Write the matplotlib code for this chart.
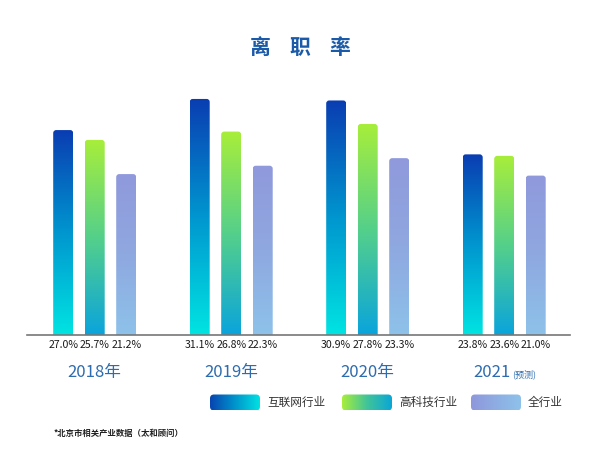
import matplotlib
matplotlib.use("Agg")
import matplotlib.pyplot as plt
import numpy as np
from matplotlib.colors import LinearSegmentedColormap
from matplotlib.patches import FancyBboxPatch

plt.rcParams['font.family'] = ['Noto Sans CJK SC', 'DejaVu Sans']

# data
years = ['2018年', '2019年', '2020年', '2021']
internet = [27.0, 31.1, 30.9, 23.8]
hightech = [25.7, 26.8, 27.8, 23.6]
overall = [21.2, 22.3, 23.3, 21.0]
series_names = ['互联网行业', '高科技行业', '全行业']

# gradients, bottom -> top
grad_cols = [
    ['#00e4e2', '#0096cf', '#0a3db2'],
    ['#0aa4dc', '#55d08a', '#a8ee3a'],
    ['#8dc2ea', '#8fa8e0', '#9099dc'],
]
# legend gradients, left -> right
leg_cols = [
    ['#0844b0', '#0094cc', '#00e2e2'],
    ['#a8ee3a', '#40c49a', '#0aa6d8'],
    ['#8f97dc', '#8dc2ea'],
]

W, H = 599, 458
fig = plt.figure(figsize=(W / 100, H / 100), dpi=100)

# main axes in pixel layout: baseline y=335, axis line x 27..570
px_per_pct = 7.59
px_per_grp = 136.5
base_y = 335
ax_left, ax_right = 27, 570
ymax = 32
ax = fig.add_axes([ax_left / W, (H - base_y) / H,
                   (ax_right - ax_left) / W, ymax * px_per_pct / H])
x0_data = -(94.7 - ax_left) / px_per_grp
x1_data = x0_data + (ax_right - ax_left) / px_per_grp

x = np.arange(len(years))
off = 31.5 / px_per_grp
bw = 20 / px_per_grp
asp = (1 / px_per_pct) / (1 / px_per_grp)
r = 3 / px_per_grp

all_vals = [internet, hightech, overall]
grad = np.linspace(0, 1, 256).reshape(-1, 1)
for k, vals in enumerate(all_vals):
    bars = ax.bar(x + (k - 1) * off, vals, width=bw, color='none', zorder=1)
    cmap = LinearSegmentedColormap.from_list('g%d' % k, grad_cols[k])
    for rect, v in zip(bars, vals):
        bx, bwid, bh = rect.get_x(), rect.get_width(), rect.get_height()
        img = ax.imshow(grad, cmap=cmap, origin='lower', aspect='auto',
                        extent=[bx, bx + bwid, 0, bh], zorder=2)
        clip = FancyBboxPatch((bx, -2), bwid, bh + 2,
                              boxstyle='round,pad=0,rounding_size=%f' % r,
                              mutation_aspect=asp, fc='none', ec='none',
                              transform=ax.transData)
        ax.add_patch(clip)
        img.set_clip_path(clip)
        ax.annotate('%.1f%%' % v, xy=(rect.get_x() + bwid / 2, 0),
                    xytext=(0, -7.5), textcoords='offset points',
                    ha='center', va='center', fontsize=7.6, color='#1a1a1a')

for i, yr in enumerate(years):
    if i == len(years) - 1:
        ax.annotate(yr, xy=(i, 0), xytext=(4.5, -27), textcoords='offset points',
                    ha='right', va='center', fontsize=12, color='#2d6cae')
        ax.annotate('(预测)', xy=(i, 0), xytext=(6, -28), textcoords='offset points',
                    ha='left', va='center', fontsize=6.5, color='#2d6cae')
    else:
        ax.annotate(yr, xy=(i, 0), xytext=(0, -27), textcoords='offset points',
                    ha='center', va='center', fontsize=12, color='#2d6cae')

ax.set_xlim(x0_data, x1_data)
ax.set_ylim(0, ymax)
for s in ['top', 'right', 'left']:
    ax.spines[s].set_visible(False)
ax.spines['bottom'].set_color('#777777')
ax.spines['bottom'].set_linewidth(1.2)
ax.spines['bottom'].set_zorder(5)
ax.set_xticks([])
ax.set_yticks([])
ax.patch.set_visible(False)

# overlay in pixel coordinates for title, legend and footnote
ov = fig.add_axes([0, 0, 1, 1])
ov.set_xlim(0, W)
ov.set_ylim(H, 0)
ov.axis('off')

for cx, ch in zip([260.5, 300, 339.5], '离职率'):
    ov.text(cx, 47, ch, ha='center', va='center', fontsize=15,
            fontweight='bold', color='#1b5aa8')

leg_x = [210, 342, 471]
hgrad = np.linspace(0, 1, 256).reshape(1, -1)
for k, name in enumerate(series_names):
    lx = leg_x[k]
    cmap = LinearSegmentedColormap.from_list('l%d' % k, leg_cols[k])
    img = ov.imshow(hgrad, cmap=cmap, aspect='auto',
                    extent=[lx, lx + 50, 410.5, 394.5], zorder=2)
    clip = FancyBboxPatch((lx, 394.5), 50, 16,
                          boxstyle='round,pad=0,rounding_size=4',
                          fc='none', ec='none', transform=ov.transData)
    ov.add_patch(clip)
    img.set_clip_path(clip)
    ov.text(lx + 57, 402.5, name, ha='left', va='center', fontsize=8.4,
            color='#333333')

ov.set_xlim(0, W)
ov.set_ylim(H, 0)

ov.text(54, 433, '*北京市相关产业数据（太和顾问）', ha='left', va='center',
        fontsize=6, color='#222222', fontweight='bold')

fig.savefig('out.png', dpi=100, facecolor='white')
